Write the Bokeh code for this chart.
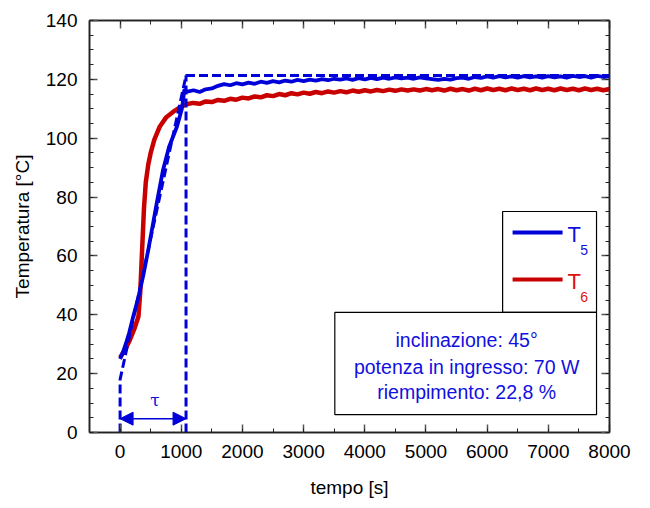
from bokeh.plotting import figure
from bokeh.models import (LinearAxis, SingleIntervalTicker, BoxAnnotation, Arrow,
                          NormalHead, Range1d, CustomJSTickFormatter)
from bokeh.core.properties import value
from bokeh.embed import file_html
from bokeh.resources import INLINE

# ---- data ----
t5_time_start = [0, 50, 100, 150, 215, 300, 380, 460, 530, 600, 700, 800, 930, 1010, 1030, 1050]
t5_start = [25.0, 27.5, 30.5, 34.0, 39.4, 46.0, 53.5, 62.0, 70.0, 78.0, 89.0, 97.0, 104.0, 110.0, 113.0, 116.5]

t6_time_start = [0, 80, 163, 230, 300, 330, 360, 390, 420, 460, 500, 560, 650, 750, 870, 980, 1050]
t6_start = [25.5, 28.0, 31.6, 35.0, 39.4, 48.0, 62.0, 76.0, 85.0, 91.0, 95.0, 99.5, 104.0, 107.0, 109.0, 110.5, 111.2]

plateau_time = list(range(1100, 8001, 100))
t5_plateau = [
    115.8, 116.3, 115.7, 116.6, 116.9, 117.8, 118.4, 118.0, 118.7, 118.3,
    118.9, 118.5, 119.2, 118.8, 119.4, 119.0, 119.6, 119.2, 119.8, 119.4,
    119.9, 119.6, 120.1, 119.7, 120.2, 119.9, 120.3, 119.8, 120.4, 120.0,
    120.5, 120.1, 120.6, 120.2, 120.7, 120.3, 120.6, 120.2, 120.7, 120.3,
    120.1, 119.8, 120.2, 119.9, 120.4, 120.6, 120.2, 120.8, 120.5, 121.0,
    120.6, 121.1, 120.7, 121.0, 120.6, 121.1, 120.7, 121.0, 120.6, 121.1,
    120.7, 121.0, 120.6, 121.2, 120.8, 121.1, 120.6, 121.2, 120.8, 121.0]
t6_plateau = [
    111.6, 112.0, 111.7, 112.5, 112.3, 113.0, 112.7, 113.4, 113.1, 113.8,
    113.5, 114.2, 113.9, 114.6, 114.3, 115.0, 114.6, 115.3, 114.9, 115.5,
    115.1, 115.7, 115.3, 115.9, 115.5, 116.0, 115.6, 116.2, 115.8, 116.3,
    115.9, 116.4, 116.0, 116.5, 116.1, 116.6, 116.2, 116.6, 116.2, 116.7,
    116.3, 116.7, 116.2, 116.8, 116.3, 116.7, 116.2, 116.8, 116.3, 116.9,
    116.4, 116.8, 116.3, 116.9, 116.4, 116.8, 116.3, 116.9, 116.4, 116.8,
    116.3, 116.9, 116.4, 116.8, 116.3, 116.9, 116.4, 116.8, 116.3, 116.7]

# ideal ramp (dashed) and time constant tau
ramp_time = [0, 0, 1078, 8000]
ramp_temp = [0, 18, 121.3, 121.3]
tau = 1078

x_label = "tempo [s]"
y_label = "Temperatura [°C]"
info_lines = ["inclinazione: 45°", "potenza in ingresso: 70 W", "riempimento: 22,8 %"]

BLUE = "#0000d8"
RED = "#c80000"
TXT_BLUE = "#1010e0"
TXT_RED = "#e01010"
FONT = "Liberation Sans"

p = figure(width=636, height=500, x_range=Range1d(-500, 8000), y_range=Range1d(0, 140),
           output_backend="svg", toolbar_location=None,
           min_border_left=89, min_border_right=27, min_border_top=20, min_border_bottom=67)
p.grid.visible = False
p.outline_line_color = "black"
p.outline_line_width = 1.5
p.background_fill_color = "white"
p.border_fill_color = "white"

xt = SingleIntervalTicker(interval=1000, num_minor_ticks=2)
yt = SingleIntervalTicker(interval=20, num_minor_ticks=4)
xbottom = p.below[0]
yleft = p.left[0]
xbottom.ticker = xt
yleft.ticker = yt
blank = CustomJSTickFormatter(code="return ''")
xtop = LinearAxis(ticker=xt, formatter=blank, major_label_standoff=0)
yright = LinearAxis(ticker=yt, formatter=blank, major_label_standoff=0)
p.add_layout(xtop, "above")
p.add_layout(yright, "right")

for ax in (xbottom, yleft, xtop, yright):
    ax.major_tick_in = 8
    ax.major_tick_out = 0
    ax.minor_tick_in = 4
    ax.minor_tick_out = 0
    ax.axis_line_color = "#222222"
    ax.axis_line_width = 1.5
    ax.major_tick_line_color = "#555555"
    ax.major_tick_line_width = 1.5
    ax.minor_tick_line_color = "#222222"
    ax.major_label_text_font = FONT
    ax.major_label_text_color = "black"
    ax.major_label_text_font_size = "19px"

xbottom.major_label_standoff = 12
yleft.major_label_standoff = 12
xbottom.axis_label = x_label
yleft.axis_label = y_label
for ax in (xbottom, yleft):
    ax.axis_label_text_font = FONT
    ax.axis_label_text_font_size = "19px"
    ax.axis_label_text_font_style = "normal"
    ax.axis_label_text_color = "black"
xbottom.axis_label_standoff = 16
yleft.axis_label_standoff = 10

# curves
p.line(t6_time_start + plateau_time, t6_start + t6_plateau, line_color=RED, line_width=4.5)
p.line(t5_time_start + plateau_time, t5_start + t5_plateau, line_color=BLUE, line_width=3.8)

# dashed ramp
p.line(ramp_time, ramp_temp, line_color=BLUE, line_width=3, line_dash="9 4")
p.line([tau, tau], [0, ramp_temp[-1]], line_color=BLUE, line_width=3, line_dash="9 4")

# tau arrow
p.add_layout(Arrow(x_start=0, y_start=4.7, x_end=tau, y_end=4.7, line_color=BLUE, line_width=1.5,
                   start=NormalHead(size=13, fill_color=BLUE, line_color=BLUE),
                   end=NormalHead(size=13, fill_color=BLUE, line_color=BLUE)))
p.text(x=[570], y=[11], text=["τ"], text_color=TXT_BLUE, text_font=value("DejaVu Serif"),
       text_font_size="17px", text_align="center", text_baseline="middle")

# legend and info boxes
p.add_layout(BoxAnnotation(left=6253, right=7788, bottom=40.8, top=75.1, fill_color="white",
                           fill_alpha=1, line_color="black", line_alpha=1, line_width=1.2,
                           level="annotation"))
p.add_layout(BoxAnnotation(left=3510, right=7788, bottom=6.1, top=40.8, fill_color="white",
                           fill_alpha=1, line_color="black", line_alpha=1, line_width=1.2,
                           level="annotation"))

leg_lines_x = [6416, 7233]
p.line(leg_lines_x, [68.0, 68.0], line_color=BLUE, line_width=4, level="overlay")
p.line(leg_lines_x, [52.0, 52.0], line_color=RED, line_width=4, level="overlay")
p.text(x=[7314], y=[67.3], text=["T"], text_color=TXT_BLUE, text_font=value(FONT),
       text_font_size="22px", text_baseline="middle", level="overlay")
p.text(x=[7522], y=[62.0], text=["5"], text_color=TXT_BLUE, text_font=value(FONT),
       text_font_size="14px", text_baseline="middle", level="overlay")
p.text(x=[7314], y=[51.3], text=["T"], text_color=TXT_RED, text_font=value(FONT),
       text_font_size="22px", text_baseline="middle", level="overlay")
p.text(x=[7522], y=[46.0], text=["6"], text_color=TXT_RED, text_font=value(FONT),
       text_font_size="14px", text_baseline="middle", level="overlay")

p.text(x=[5665] * 3, y=[31.6, 22.1, 13.6], text=info_lines, text_color=TXT_BLUE,
       text_font=value(FONT), text_font_size="19.5px", text_align="center",
       text_baseline="middle", level="overlay")

open("out.html", "w").write(file_html(p, INLINE))
